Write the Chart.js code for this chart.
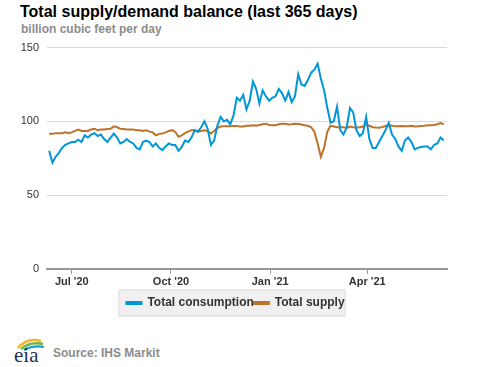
<!DOCTYPE html>
<html>
<head>
<meta charset="utf-8">
<script src="https://cdn.jsdelivr.net/npm/chart.js@4/dist/chart.umd.min.js"></script>
<style>
  html, body { margin: 0; padding: 0; background: #fff; }
  body { width: 477px; height: 367px; position: relative; overflow: hidden; font-family: "Liberation Sans", Arial, sans-serif; }
  #title { position: absolute; left: 20px; top: 4px; font-size: 16px; line-height: 16px; font-weight: bold; color: #000; white-space: nowrap; }
  #subtitle { position: absolute; left: 21px; top: 23px; font-size: 12px; line-height: 12px; font-weight: bold; color: #8c8c8c; white-space: nowrap; }
  #wrap { position: absolute; left: 0; top: 33px; width: 477px; height: 292px; }
  #source { position: absolute; left: 53px; top: 347px; font-size: 12px; line-height: 12px; font-weight: bold; color: #8c8c8c; white-space: nowrap; }
  #logo { position: absolute; left: 13px; top: 335px; }
</style>
</head>
<body>
<div id="title">Total supply/demand balance (last 365 days)</div>
<div id="subtitle">billion cubic feet per day</div>
<div id="wrap"><canvas id="c"></canvas></div>
<svg id="logo" width="34" height="30" viewBox="0 0 34 30">
  <path d="M5 13 Q 14 2 28 6" fill="none" stroke="#f2b526" stroke-width="2.4"/>
  <path d="M8 14 Q 17 6 30 9" fill="none" stroke="#6fb544" stroke-width="2.4"/>
  <path d="M11 15 Q 20 10 31 12" fill="none" stroke="#1a9ad6" stroke-width="2.2"/>
  <text x="1" y="27" font-family="Liberation Serif, DejaVu Serif, serif" font-size="21" fill="#1f2f4f">eia</text>
</svg>
<div id="source">Source: IHS Markit</div>
<script>
// ---- data ----
const seriesNames = ["Total consumption", "Total supply"];
const axisStartDate = "2020-06-08";
const axisEndDate = "2021-06-14";
const firstDataDate = "2020-06-10";
const stepDays = 3;
const tickDates = ["2020-07-01", "2020-10-01", "2021-01-01", "2021-04-01"];
const tickLabels = ["Jul '20", "Oct '20", "Jan '21", "Apr '21"];
const yTicks = [0, 50, 100, 150];

const consumption = [
  80, 72, 76, 78.6, 82, 84, 85, 86, 86, 87.6,
  86, 90.5, 89, 91, 92, 90, 91, 88, 86, 89,
  91.7, 89, 85, 86, 88, 86, 85, 82, 81, 86,
  87, 86, 83, 85, 82, 80.5, 83, 85, 84, 84,
  80, 82.6, 87, 86, 89, 94, 93, 96, 100, 95,
  84, 87, 97, 103, 100, 101, 98, 104, 116, 114,
  118, 108, 114, 127, 122, 112, 121, 117, 114, 116,
  117, 122, 119, 114, 120, 113, 117, 132, 125, 124,
  128, 133, 135, 139, 129, 121, 109, 99, 100, 110,
  94, 91, 96, 109, 106, 94, 90, 92, 103, 88,
  82, 82, 86, 90, 94, 99, 91, 88, 83, 80,
  87, 89, 86, 81, 82, 82.6, 83, 83, 81, 84,
  85, 89, 87
];
const supply = [
  91.5, 91.5, 92, 92, 92, 92.5, 92, 92.5, 93.5, 94.4,
  93.5, 93.5, 93.5, 94.5, 95, 94, 94.5, 94.4, 94.8, 95,
  96.6, 96, 95, 94.8, 94.4, 94.4, 94.4, 94, 94, 93.5,
  94, 93, 92.5, 90.5, 91.5, 91.7, 92.5, 93.5, 94, 92.8,
  89.5, 90.5, 92, 93, 94, 94, 93, 93.5, 94, 93.5,
  91.7, 93.5, 95.5, 96.5, 96.6, 96.6, 96.6, 96.8, 96.8, 96.5,
  96.5, 97, 97, 97.3, 97, 97.5, 98, 98.4, 97.5, 97.3,
  97.3, 98, 98.4, 98.4, 97.8, 98, 98.4, 98.2, 97.8, 97.3,
  97, 96, 93, 85, 76, 82, 93, 97, 96.5, 96,
  96, 96, 95.5, 96.5, 96, 95.7, 96, 96.5, 98, 97,
  96, 95.8, 95.7, 96.2, 96.8, 97.3, 97, 96.6, 96.6, 96.8,
  96.6, 96.6, 97, 96.5, 96.6, 96.8, 97, 97.3, 97.3, 97.5,
  98, 98.8, 98
];
const seriesColors = ["#0096d7", "#bd732a"];

// ---- helpers ----
const DAY = 86400000;
const dayOf = s => { const [y, m, d] = s.split("-").map(Number); return Date.UTC(y, m - 1, d) / DAY; };
const base = dayOf(axisStartDate);
const firstDay = dayOf(firstDataDate) - base;
const tickDays = tickDates.map(s => dayOf(s) - base);
const toPoints = arr => arr.map((v, i) => ({ x: firstDay + i * stepDays, y: v }));
const LEGEND_SHIFT = 12;

const legendBg = {
  id: "legendBg",
  afterUpdate(chart) {
    const lg = chart.legend;
    if (!lg) return;
    lg.left += LEGEND_SHIFT; lg.right += LEGEND_SHIFT;
    (lg.legendHitBoxes || []).forEach(h => { h.left += LEGEND_SHIFT; });
  },
  beforeDraw(chart) {
    const lg = chart.legend;
    if (!lg || !lg.legendHitBoxes || !lg.legendHitBoxes.length) return;
    const hb = lg.legendHitBoxes;
    const l = Math.min(...hb.map(h => h.left));
    const r = Math.max(...hb.map(h => h.left + h.width));
    const cy = hb[0].top + hb[0].height / 2;
    const ctx = chart.ctx;
    ctx.save();
    ctx.fillStyle = "#f0f0f0";
    ctx.strokeStyle = "#dedede";
    ctx.lineWidth = 1;
    ctx.fillRect(l - 8, cy - 13.5, (r - l) + 9, 27);
    ctx.strokeRect(l - 7.5, cy - 13, (r - l) + 8, 26);
    ctx.restore();
  }
};

new Chart(document.getElementById("c"), {
  type: "line",
  data: {
    datasets: [
      { label: seriesNames[0], data: toPoints(consumption), borderColor: seriesColors[0], backgroundColor: seriesColors[0], borderWidth: 2, pointRadius: 0, tension: 0 },
      { label: seriesNames[1], data: toPoints(supply), borderColor: seriesColors[1], backgroundColor: seriesColors[1], borderWidth: 2, pointRadius: 0, tension: 0 }
    ]
  },
  options: {
    responsive: true,
    maintainAspectRatio: false,
    animation: false,
    layout: { padding: { left: 0, right: 30, top: 2, bottom: 6 } },
    plugins: {
      tooltip: { enabled: false },
      legend: {
        position: "bottom",
        labels: {
          boxWidth: 15, boxHeight: 2, padding: 0,
          color: "#333",
          font: { family: "Liberation Sans, Arial, sans-serif", size: 12, weight: "bold" }
        }
      }
    },
    scales: {
      x: {
        type: "linear",
        min: 0,
        max: dayOf(axisEndDate) - base,
        afterBuildTicks: s => { s.ticks = tickDays.map(v => ({ value: v })); },
        afterFit: s => { s.height += 6; },
        ticks: {
          autoSkip: false, maxRotation: 0, padding: 2,
          color: "#333",
          font: { family: "Liberation Sans, Arial, sans-serif", size: 11, weight: "bold" },
          callback: v => { const i = tickDays.indexOf(v); return i >= 0 ? tickLabels[i] : ""; }
        },
        grid: { display: true, drawOnChartArea: false, drawTicks: true, tickLength: 5, color: "#999", lineWidth: 1 },
        border: { display: true, color: "#999", width: 2 }
      },
      y: {
        min: 0, max: 150,
        afterBuildTicks: s => { s.ticks = yTicks.map(v => ({ value: v })); },
        afterFit: s => { s.width = 47; },
        ticks: {
          padding: 8, color: "#333",
          font: { family: "Liberation Sans, Arial, sans-serif", size: 11 }
        },
        grid: { color: "#d9d9d9", lineWidth: 1, drawTicks: false },
        border: { display: false }
      }
    }
  },
  plugins: [legendBg]
});
</script>
</body>
</html>
